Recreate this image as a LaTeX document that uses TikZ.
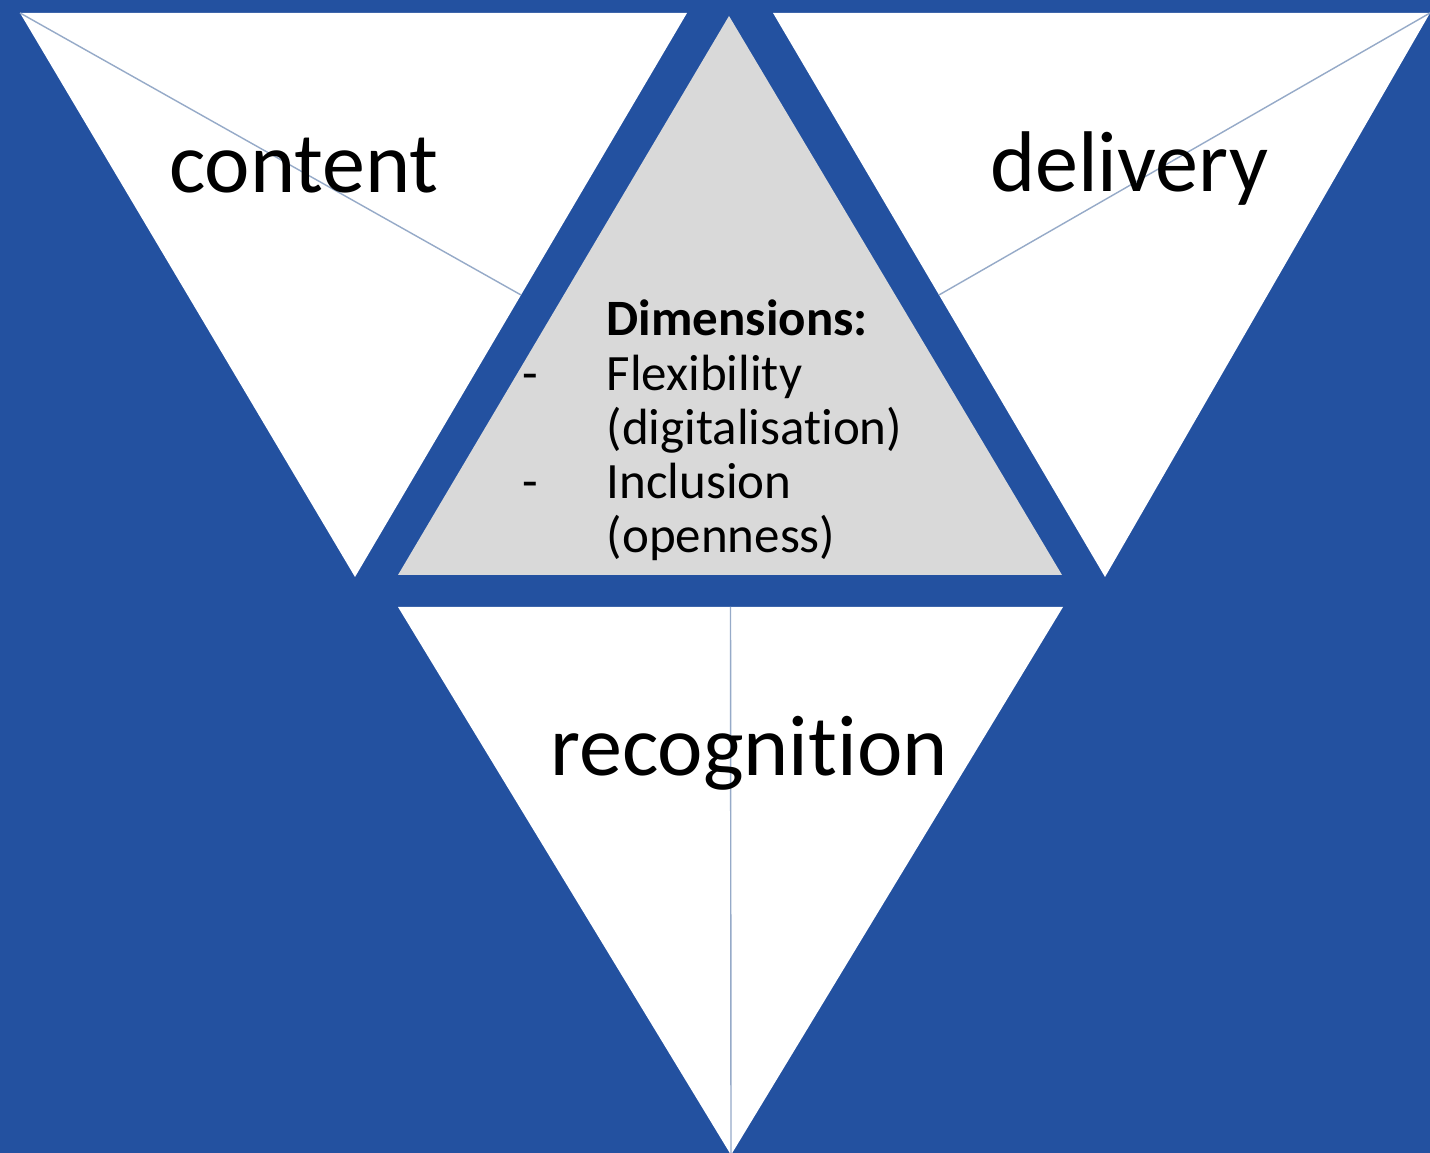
\documentclass[tikz,border=0pt]{standalone}
\usepackage{fontspec}
\setmainfont{Carlito}[Ligatures={NoCommon}]
\usetikzlibrary{calc}
\definecolor{dimblue}{RGB}{35,81,160}
\definecolor{dimgray}{RGB}{217,217,217}
\definecolor{medline}{RGB}{150,170,200}

\begin{document}
\begin{tikzpicture}[
  tri/.style={fill=white},
  median/.style={draw=medline, line width=0.4pt},
  word/.style={font=\fontsize{24.5}{29}\selectfont, inner sep=0, anchor=base}
]
\useasboundingbox (0,0) rectangle (14.30,11.53);
\fill[dimblue] (0,0) rectangle (14.30,11.53);
% corners of the four triangles
\coordinate (c1) at (0.20,11.40);
\coordinate (c2) at (6.87,11.40);
\coordinate (c3) at (3.55,5.76);
\coordinate (d1) at (7.73,11.40);
\coordinate (d2) at (14.30,11.40);
\coordinate (d3) at (11.05,5.76);
\coordinate (g1) at (7.29,11.37);
\coordinate (g2) at (3.98,5.78);
\coordinate (g3) at (10.62,5.78);
\coordinate (r1) at (3.98,5.46);
\coordinate (r2) at (10.63,5.46);
\coordinate (r3) at (7.31,-0.02);
% white and grey faces
\fill[tri] (c1) -- (c2) -- (c3) -- cycle;
\fill[tri] (d1) -- (d2) -- (d3) -- cycle;
\fill[tri] (r1) -- (r2) -- (r3) -- cycle;
\fill[dimgray] (g1) -- (g2) -- (g3) -- cycle;
% medians
\draw[median] (c1) -- ($(c2)!0.5!(c3)$);
\draw[median] (d2) -- ($(d1)!0.5!(d3)$);
\draw[median] ($(r1)!0.5!(r2)$) -- (r3);
% labels
\node[word] (content) at (3.04,9.60) {content};
\node[word] (delivery) at (11.29,9.61) {delivery};
\node[word] (recognition) at (7.49,3.77) {recognition};
\node[inner sep=0, anchor=base west, font=\fontsize{14.5}{15.4}\selectfont] (dims) at (5.22,8.17)
  {\begin{tabular}[t]{@{}p{0.84cm}@{}l@{}}
    & \textbf{Dimensions:}\\
   - & Flexibility\\
    & (digitalisation)\\
   - & Inclusion\\
    & (openness)
  \end{tabular}};
\end{tikzpicture}
\end{document}
